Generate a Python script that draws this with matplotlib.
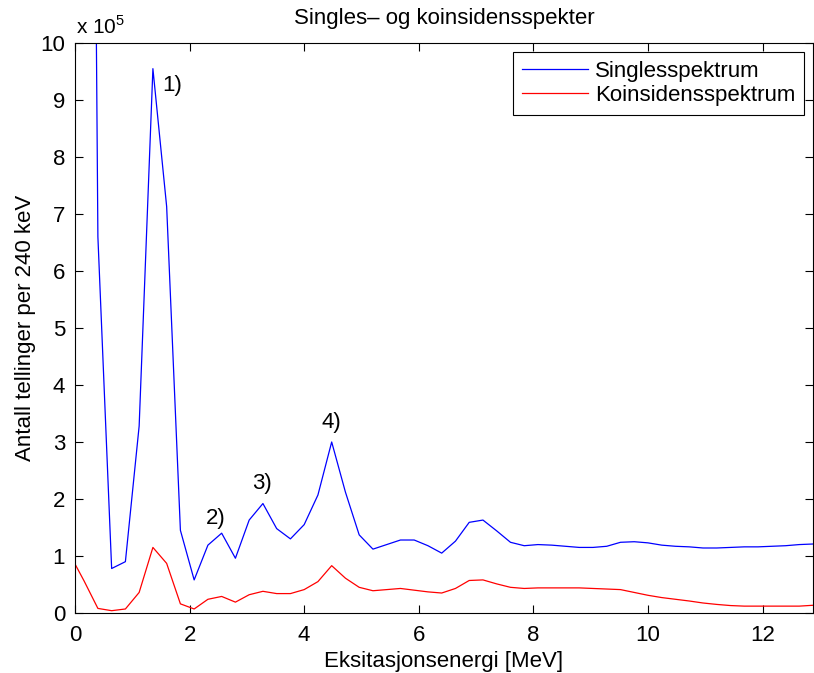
"""Singles- og koinsidensspekter, MATLAB-style line chart."""

import numpy as np
import matplotlib
matplotlib.use("Agg")
import matplotlib.pyplot as plt

plt.rcParams["font.family"] = ["Liberation Sans", "DejaVu Sans"]
plt.rcParams["mathtext.fontset"] = "custom"
plt.rcParams["mathtext.rm"] = "Liberation Sans"

# bin centres in MeV (240 keV bins)
energy = np.arange(-0.08, 12.90, 0.24)

# counts in units of 1e5
singles = [
    50.0, 38.0, 6.60, 0.78, 0.90, 3.28, 9.55, 7.13, 1.45, 0.58,
    1.19, 1.40, 0.96, 1.63, 1.92, 1.48, 1.30, 1.55, 2.07, 3.00,
    2.12, 1.37, 1.12, 1.20, 1.28, 1.28, 1.18, 1.05, 1.26, 1.59,
    1.63, 1.44, 1.24, 1.18, 1.20, 1.19, 1.17, 1.15, 1.15, 1.17,
    1.24, 1.25, 1.23, 1.19, 1.17, 1.16, 1.14, 1.14, 1.15, 1.16,
    1.16, 1.17, 1.18, 1.20, 1.21,
]
coincidence = [
    1.01, 0.56, 0.08, 0.04, 0.07, 0.36, 1.15, 0.87, 0.16, 0.07,
    0.24, 0.29, 0.19, 0.32, 0.38, 0.34, 0.34, 0.41, 0.55, 0.83,
    0.61, 0.45, 0.39, 0.41, 0.43, 0.40, 0.37, 0.35, 0.43, 0.57,
    0.58, 0.51, 0.45, 0.43, 0.44, 0.44, 0.44, 0.44, 0.43, 0.42,
    0.41, 0.36, 0.31, 0.27, 0.24, 0.21, 0.175, 0.15, 0.13, 0.12,
    0.12, 0.12, 0.12, 0.12, 0.135,
]

peak_labels = ["1)", "2)", "3)", "4)"]
peak_x = [1.69, 2.46, 3.26, 4.48]
peak_y = [9.26, 1.65, 2.28, 3.35]

fs = 16

fig = plt.figure(figsize=(8.14, 6.73), dpi=100)
ax = fig.add_axes([0.0921, 0.0892, 0.9067, 0.8469])

ax.plot(energy, singles, color=(0, 0, 1), lw=0.9, label="Singlesspektrum")
ax.plot(energy, coincidence, color=(1, 0, 0), lw=0.9, label="Koinsidensspektrum")

for lab, px, py in zip(peak_labels, peak_x, peak_y):
    ax.text(px, py, lab, fontsize=fs, ha="center", va="center")

ax.set_xlim(0, 12.88)
ax.set_ylim(0, 10)
ax.set_xticks(np.arange(0, 13, 2))
ax.set_yticks(np.arange(0, 11, 1))
ax.tick_params(direction="in", top=True, right=True, labelsize=fs,
               length=6, width=0.8)
ax.tick_params(axis="x", pad=9)
ax.tick_params(axis="y", pad=7)
for sp in ax.spines.values():
    sp.set_linewidth(0.8)

ax.set_xlabel("Eksitasjonsenergi [MeV]", fontsize=fs, labelpad=3)
ax.set_ylabel("Antall tellinger per 240 keV", fontsize=fs, labelpad=3)
ax.set_title("Singles\u2013 og koinsidensspekter", fontsize=fs, pad=14)
ax.text(0.002, 1.01, "x 10$^{5}$", transform=ax.transAxes, fontsize=15,
        ha="left", va="bottom")

leg = ax.legend(loc="upper right", fontsize=fs, fancybox=False,
                edgecolor="black", framealpha=1, borderaxespad=0.4,
                handlelength=3.0, handletextpad=0.3, labelspacing=0.15,
                borderpad=0.4)
leg.get_frame().set_linewidth(0.8)

fig.savefig("out.png", dpi=100)
plt.close(fig)
